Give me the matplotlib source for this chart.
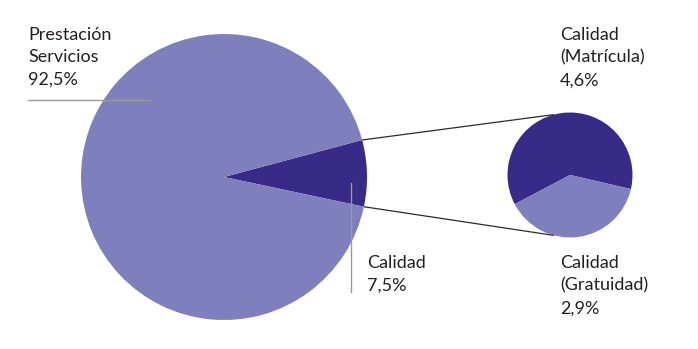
import numpy as np
import matplotlib
matplotlib.use("Agg")
import matplotlib.pyplot as plt

# Data
main_labels = ["Calidad", "Prestación\nServicios"]
main_values = [7.5, 92.5]
main_pct_labels = ["7,5%", "92,5%"]
sub_labels = ["Calidad\n(Matrícula)", "Calidad\n(Gratuidad)"]
sub_values = [4.6, 2.9]
sub_pct_labels = ["4,6%", "2,9%"]

LIGHT = "#807FBD"
DARK = "#372B87"
TXT = "#231F20"

W, H = 698, 349
fig = plt.figure(figsize=(W / 100, H / 100), dpi=100)
ax = fig.add_axes([0, 0, 1, 1])

def py(y):
    return H - y

big_c = (224, py(177))
big_r = 143
small_c = (570, py(175))
small_r = 62.5

big_start = -12
ax.pie(main_values, colors=[DARK, LIGHT], startangle=big_start, counterclock=True,
       center=big_c, radius=big_r, wedgeprops=dict(linewidth=0), frame=True)
ax.pie(sub_values, colors=[DARK, LIGHT], startangle=-13, counterclock=True,
       center=small_c, radius=small_r, wedgeprops=dict(linewidth=0), frame=True)

# connection lines
a1 = np.deg2rad(big_start + main_values[0] / sum(main_values) * 360)
a2 = np.deg2rad(big_start)
b1 = np.deg2rad(105)
b2 = np.deg2rad(255)
for a, b in [(a1, b1), (a2, b2)]:
    x0 = big_c[0] + big_r * np.cos(a)
    y0 = big_c[1] + big_r * np.sin(a)
    x1 = small_c[0] + small_r * np.cos(b)
    y1 = small_c[1] + small_r * np.sin(b)
    ax.plot([x0, x1], [y0, y1], color="#2b2b2b", lw=0.9, solid_capstyle="butt")

# label leader lines
ax.plot([28, 150], [py(100), py(100)], color="#9a9a9a", lw=1.0)
ax.plot([351, 351], [py(183), py(292)], color="#9a9a9a", lw=1.0)

fs = 13
font = dict(family=["Lato", "DejaVu Sans"], fontsize=fs, color=TXT, va="top", ha="left",
            linespacing=1.5)
ax.text(28, py(27), main_labels[1] + "\n" + main_pct_labels[1], **font)
ax.text(367, py(255), main_labels[0] + "\n" + main_pct_labels[0], **font)
ax.text(560, py(27), sub_labels[0] + "\n" + sub_pct_labels[0], **font)
ax.text(560, py(255), sub_labels[1] + "\n" + sub_pct_labels[1], **font)

ax.set_xlim(0, W)
ax.set_ylim(0, H)
ax.set_aspect("auto")
ax.axis("off")
fig.savefig("out.png", dpi=100, facecolor="white")
